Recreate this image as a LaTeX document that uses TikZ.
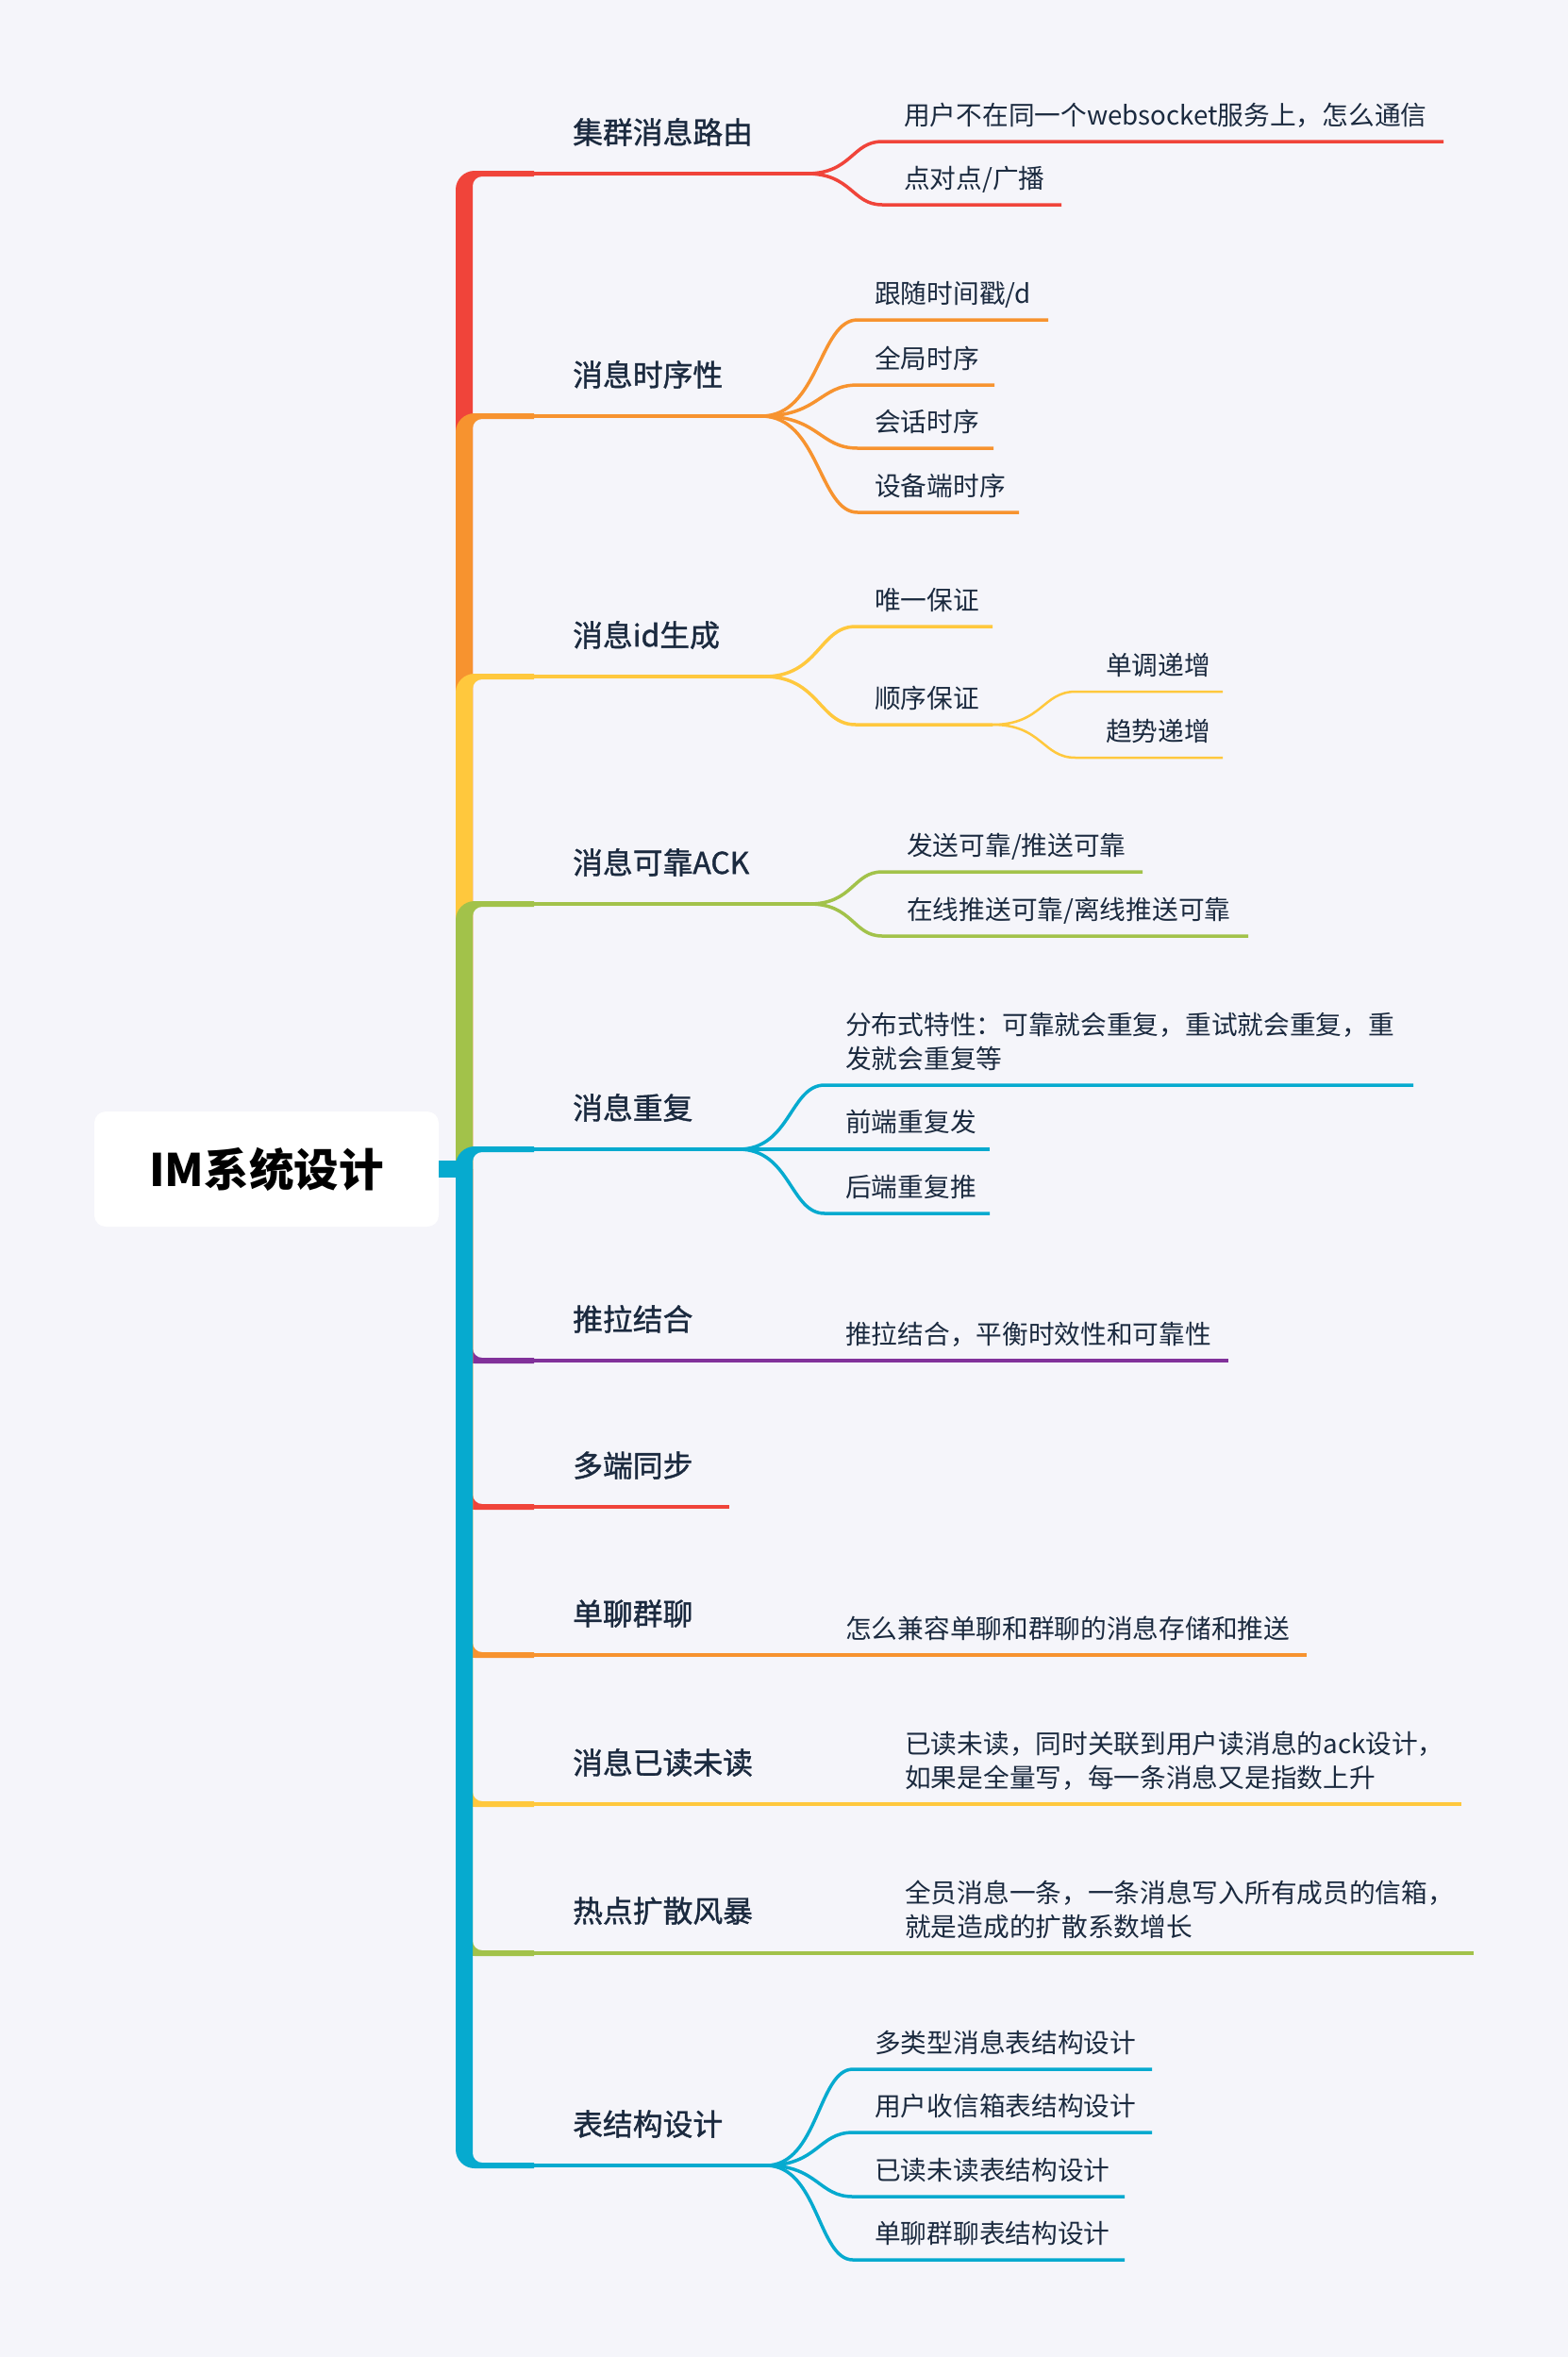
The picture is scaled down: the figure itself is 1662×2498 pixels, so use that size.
\documentclass[tikz,border=0pt]{standalone}
\usepackage{fontspec}
\setmainfont{Noto Sans CJK SC}
\newfontfamily\medfont{Noto Sans CJK SC}[FakeBold=1.2]
\definecolor{cred}{HTML}{F0443A}
\definecolor{corange}{HTML}{F7932F}
\definecolor{cyellow}{HTML}{FFC83D}
\definecolor{cgreen}{HTML}{A2C24A}
\definecolor{cblue}{HTML}{06AACF}
\definecolor{cpurple}{HTML}{81319A}
\definecolor{bgc}{HTML}{F5F5FA}
\definecolor{ink}{HTML}{1B2A3F}
\tikzset{
  mlabel/.style={anchor=west, inner sep=0pt, text=ink, font=\fontsize{31.8}{38}\medfont, text height=28pt, text depth=3.8pt},
  clabel/.style={anchor=west, inner sep=0pt, text=ink, font=\fontsize{27.7}{36.5}\selectfont, text height=24.4pt, text depth=3.3pt},
  clabeltwo/.style={anchor=west, inner sep=0pt, text=ink, font=\fontsize{27.7}{36.5}\selectfont, align=left},
  rootbox/.style={fill=white, rounded corners=12pt, minimum width=365pt, minimum height=122pt, inner sep=0pt, text=black, font=\fontsize{47.5}{50}\selectfont\bfseries},
  mline/.style={line width=4pt},
  cline/.style={line width=3.5pt},
  gline/.style={line width=2.5pt},
}
% trunk segment going up from the centre to branch at y=#2
\newcommand\upseg[2]{\fill[#1] (483,1239) -- (483,#2+17) .. controls (483,#2+6) and (492,#2-3) .. (503,#2-3) -- (566,#2-3) -- (566,#2+3) -- (511,#2+3) .. controls (505.5,#2+3) and (501,#2+7.5) .. (501,#2+13) -- (501,1239) -- cycle;}
% trunk segment going down from the centre to branch at y=#2
\newcommand\downseg[2]{\fill[#1] (483,1239) -- (483,#2-17) .. controls (483,#2-6) and (492,#2+3) .. (503,#2+3) -- (566,#2+3) -- (566,#2-3) -- (511,#2-3) .. controls (505.5,#2-3) and (501,#2-7.5) .. (501,#2-13) -- (501,1239) -- cycle;}
% child connector: color, style, xf, yf, xc, yc, xend
\newcommand\kid[7]{\draw[#1,#2] (#3,#4) .. controls ({#3+0.6*(#5-#3)},#4) and ({#3+0.6*(#5-#3)},#6) .. (#5,#6) -- (#7,#6);}
\begin{document}
\begin{tikzpicture}[x=1pt,y=-1pt]
\fill[bgc] (0,0) rectangle (1662,2498);
\useasboundingbox (0,0) rectangle (1662,2498);

% trunk
\upseg{cred}{184}
\upseg{corange}{441}
\upseg{cyellow}{717}
\upseg{cgreen}{958}
\upseg{cblue}{1218}
\downseg{cpurple}{1442}
\downseg{cred}{1597}
\downseg{corange}{1754}
\downseg{cyellow}{1912}
\downseg{cgreen}{2070}
\downseg{cblue}{2295}

% root
\node[rootbox] (root) at (282.5,1239) {IM系统设计};
\draw[cblue,line width=18pt] (root.east) -- (484,1239);

% main labels
\node[mlabel] (b1) at (607,140) {集群消息路由};
\node[mlabel] (b2) at (607,397) {消息时序性};
\node[mlabel] (b3) at (607,673) {消息id生成};
\node[mlabel] (b4) at (607,914) {消息可靠ACK};
\node[mlabel] (b5) at (607,1174) {消息重复};
\node[mlabel] (b6) at (607,1398) {推拉结合};
\node[mlabel] (b7) at (607,1553) {多端同步};
\node[mlabel] (b8) at (607,1710) {单聊群聊};
\node[mlabel] (b9) at (607,1868) {消息已读未读};
\node[mlabel] (b10) at (607,2025) {热点扩散风暴};
\node[mlabel] (b11) at (607,2251) {表结构设计};

% branch 1
\draw[cred,mline] (566,184) -- (855,184);
\kid{cred}{cline}{855}{184}{935}{150}{1530}
\kid{cred}{cline}{855}{184}{935}{217}{1125}
\node[clabel] (c1a) at (958,122) {用户不在同一个websocket服务上，怎么通信};
\node[clabel] (c1b) at (958,189) {点对点/广播};

% branch 2
\draw[corange,mline] (566,441) -- (807,441);
\kid{corange}{cline}{807}{441}{909}{339}{1111}
\kid{corange}{cline}{807}{441}{909}{408}{1054}
\kid{corange}{cline}{807}{441}{909}{475}{1053}
\kid{corange}{cline}{807}{441}{909}{543}{1080}
\node[clabel] (c2a) at (927,311) {跟随时间戳/d};
\node[clabel] (c2b) at (927,380) {全局时序};
\node[clabel] (c2c) at (927,447) {会话时序};
\node[clabel] (c2d) at (927,515) {设备端时序};

% branch 3
\draw[cyellow,mline] (566,717) -- (810,717);
\kid{cyellow}{cline}{810}{717}{907}{664}{1052}
\kid{cyellow}{cline}{810}{717}{907}{768}{1052}
\kid{cyellow}{gline}{1052}{768}{1140}{733}{1296}
\kid{cyellow}{gline}{1052}{768}{1140}{803}{1296}
\node[clabel] (c3a) at (927,636) {唯一保证};
\node[clabel] (c3b) at (927,740) {顺序保证};
\node[clabel] (c3b1) at (1172,705) {单调递增};
\node[clabel] (c3b2) at (1172,775) {趋势递增};

% branch 4
\draw[cgreen,mline] (566,958) -- (858,958);
\kid{cgreen}{cline}{858}{958}{935}{924}{1211}
\kid{cgreen}{cline}{858}{958}{935}{992}{1323}
\node[clabel] (c4a) at (961,896) {发送可靠/推送可靠};
\node[clabel] (c4b) at (961,964) {在线推送可靠/离线推送可靠};

% branch 5
\draw[cblue,mline] (566,1218) -- (783,1218);
\kid{cblue}{cline}{783}{1218}{874}{1150}{1498}
\draw[cblue,cline] (783,1218) -- (1049,1218);
\kid{cblue}{cline}{783}{1218}{874}{1286}{1049}
\node[clabeltwo] (c5a) at (896,1104) {分布式特性：可靠就会重复，重试就会重复，重\\发就会重复等};
\node[clabel] (c5b) at (896,1189) {前端重复发};
\node[clabel] (c5c) at (896,1258) {后端重复推};

% branch 6-10
\draw[cpurple,mline] (566,1442) -- (1302,1442);
\node[clabel] (c6a) at (896,1414) {推拉结合，平衡时效性和可靠性};
\draw[cred,mline] (566,1597) -- (773,1597);
\draw[corange,mline] (566,1754) -- (1385,1754);
\node[clabel] (c8a) at (896,1726) {怎么兼容单聊和群聊的消息存储和推送};
\draw[cyellow,mline] (566,1912) -- (1549,1912);
\node[clabeltwo] (c9a) at (959,1866) {已读未读，同时关联到用户读消息的ack设计，\\如果是全量写，每一条消息又是指数上升};
\draw[cgreen,mline] (566,2070) -- (1562,2070);
\node[clabeltwo] (c10a) at (959,2024) {全员消息一条，一条消息写入所有成员的信箱，\\就是造成的扩散系数增长};

% branch 11
\draw[cblue,mline] (566,2295) -- (812,2295);
\kid{cblue}{cline}{812}{2295}{904}{2193}{1221}
\kid{cblue}{cline}{812}{2295}{904}{2260}{1221}
\kid{cblue}{cline}{812}{2295}{904}{2328}{1192}
\kid{cblue}{cline}{812}{2295}{904}{2395}{1192}
\node[clabel] (c11a) at (927,2165) {多类型消息表结构设计};
\node[clabel] (c11b) at (927,2232) {用户收信箱表结构设计};
\node[clabel] (c11c) at (927,2300) {已读未读表结构设计};
\node[clabel] (c11d) at (927,2367) {单聊群聊表结构设计};
\end{tikzpicture}
\end{document}
